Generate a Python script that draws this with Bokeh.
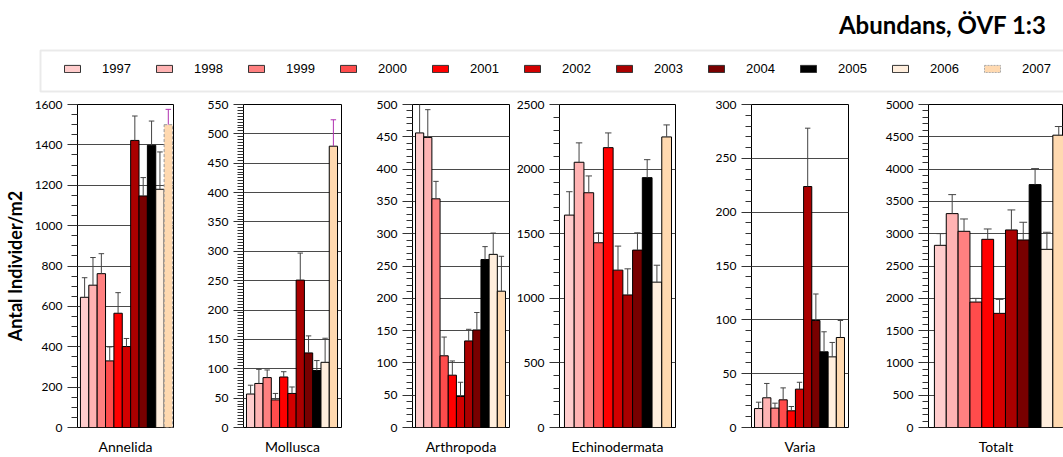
from bokeh.plotting import figure
from bokeh.models import (ColumnDataSource, Range1d, SingleIntervalTicker, FixedTicker,
                          Legend, LegendItem, Label, BoxAnnotation, IndexFilter, CDSView)
from bokeh.layouts import row, column
from bokeh.embed import file_html
from bokeh.resources import INLINE

# ---------------- data ----------------
years = ["1997", "1998", "1999", "2000", "2001", "2002", "2003", "2004", "2005", "2006", "2007"]
groups = ["Annelida", "Mollusca", "Arthropoda", "Echinodermata", "Varia", "Totalt"]

annelida = [645, 705, 762, 330, 566, 401, 1422, 1147, 1398, 1180, 1500]
annelida_se = [97, 137, 99, 69, 102, 40, 121, 91, 120, 185, 76]

mollusca = [57, 75, 85, 47, 86, 58, 251, 127, 97, 111, 479]
mollusca_se = [15, 24, 13, 11, 9, 11, 46, 29, 17, 41, 45]

arthropoda = [456, 449, 354, 111, 81, 48, 134, 151, 260, 268, 211]
arthropoda_se = [53, 43, 27, 29, 22, 22, 18, 27, 20, 33, 54]

echinodermata = [1644, 2053, 1817, 1430, 2166, 1218, 1026, 1373, 1934, 1125, 2249]
echinodermata_se = [181, 150, 130, 77, 114, 186, 202, 134, 139, 131, 93]

varia = [17.6, 27.6, 18, 25.7, 15.5, 35.6, 223.8, 99.4, 70.3, 65.6, 83.6]
varia_se = [5.9, 13.3, 4.6, 11.1, 4.0, 6.4, 54.2, 24.6, 18.6, 13.4, 15.8]

totalt = [2820, 3311, 3037, 1942, 2913, 1767, 3058, 2903, 3760, 2758, 4525]
totalt_se = [181, 294, 191, 57, 160, 216, 310, 274, 248, 264, 134]

values = [annelida, mollusca, arthropoda, echinodermata, varia, totalt]
errors = [annelida_se, mollusca_se, arthropoda_se, echinodermata_se, varia_se, totalt_se]

y_max = [1600, 550, 500, 2500, 300, 5000]
y_step = [200, 50, 50, 500, 50, 500]
y_minor = [4, 10, 5, 5, 5, 5]

title_text = "Abundans, ÖVF 1:3"
y_title = "Antal Individer/m2"

# ---------------- style ----------------
colors = ["#ffcccc", "#ffb3b3", "#ff8080", "#ff4c4c", "#ff0000", "#d20000",
          "#aa0000", "#780000", "#000000", "#ffeedd", "#ffd9b0"]
ERR = "#444444"
MAG = "#b030b0"
err_last_color = [MAG, MAG, ERR, ERR, ERR, ERR]
dashed_last = [True, False, False, False, False, False]

# (figure width, border left, border right, x start, x end)
layout_spec = [
    (190, 75, 17, -0.85, 10.62),
    (168, 53, 17, -0.86, 10.98),
    (152, 54, 1, -0.87, 10.99),
    (190, 49, 25, -1.01, 10.91),
    (175, 51, 27, -0.87, 10.99),
    (188, 53, 0, -1.00, 10.40),
]

PANEL_H = 362
TICK_FONT = "Lato"

panels = []
for k, name in enumerate(groups):
    w, bl, br, x0, x1 = layout_spec[k]
    p = figure(width=w, height=PANEL_H, x_range=Range1d(x0, x1), y_range=Range1d(0, y_max[k]),
               output_backend="svg", toolbar_location=None,
               min_border_left=bl, min_border_right=br, min_border_top=9, min_border_bottom=30)
    p.outline_line_color = "black"
    p.outline_line_width = 1
    p.background_fill_color = "white"
    p.border_fill_color = "white"

    vals = values[k]
    se = errors[k]
    n = len(vals)
    ecol = [ERR] * (n - 1) + [err_last_color[k]]
    src = ColumnDataSource(dict(
        x=list(range(n)),
        top=vals,
        up=[v + e for v, e in zip(vals, se)],
        cl=[i - 0.33 for i in range(n)],
        cr=[i + 0.33 for i in range(n)],
        color=colors,
        ecol=ecol,
    ))

    if dashed_last[k]:
        v1 = CDSView(filter=IndexFilter(list(range(n - 1))))
        v2 = CDSView(filter=IndexFilter([n - 1]))
        p.vbar(x="x", top="top", width=1.0, bottom=0, fill_color="color", line_color="black",
               line_width=1, source=src, view=v1)
        p.vbar(x="x", top="top", width=1.0, bottom=0, fill_color="color", line_color="#999999",
               line_width=1, line_dash="3 2", source=src, view=v2)
    else:
        p.vbar(x="x", top="top", width=1.0, bottom=0, fill_color="color", line_color="black",
               line_width=1, source=src)

    p.segment(x0="x", y0="top", x1="x", y1="up", line_color="ecol", line_width=1, source=src)
    p.segment(x0="cl", y0="up", x1="cr", y1="up", line_color="ecol", line_width=1, source=src)

    # y axis
    yax = p.yaxis[0]
    yax.ticker = SingleIntervalTicker(interval=y_step[k], num_minor_ticks=y_minor[k])
    yax.major_tick_out = 10
    yax.major_tick_in = 0
    yax.minor_tick_out = 6
    yax.minor_tick_in = 0
    yax.major_tick_line_color = "#333333"
    yax.minor_tick_line_color = "#333333"
    yax.axis_line_color = "black"
    yax.major_label_text_font = TICK_FONT
    yax.major_label_text_font_size = "12px"
    yax.major_label_text_color = "black"
    yax.major_label_standoff = 5
    if k == 0:
        yax.axis_label = y_title
        yax.axis_label_text_font = "Lato"
        yax.axis_label_text_font_style = "bold"
        yax.axis_label_text_font_size = "18px"
        yax.axis_label_text_color = "black"
        yax.axis_label_standoff = 6

    # x axis: only the group name
    xax = p.xaxis[0]
    xax.ticker = FixedTicker(ticks=[])
    xax.axis_line_color = None
    xax.major_tick_line_color = None
    xax.minor_tick_line_color = None
    xax.major_tick_out = 0
    xax.major_label_standoff = 0
    xax.axis_label = name
    xax.axis_label_text_font = "Lato"
    xax.axis_label_text_font_style = "normal"
    xax.axis_label_text_font_size = "14px"
    xax.axis_label_text_color = "black"
    xax.axis_label_standoff = 10

    p.xgrid.visible = False
    p.ygrid.grid_line_color = "#4a4a4a"
    p.ygrid.grid_line_width = 1
    panels.append(p)

# ---------------- header: title + legend ----------------
HEAD_W, HEAD_H = 1063, 95
head = figure(width=HEAD_W, height=HEAD_H, x_range=Range1d(0, HEAD_W), y_range=Range1d(0, HEAD_H),
              output_backend="svg", toolbar_location=None, x_axis_location=None, y_axis_location=None,
              min_border=0)
head.outline_line_color = None
head.xgrid.visible = False
head.ygrid.visible = False

head.add_layout(Label(x=1046, y=71, text=title_text, text_align="right", text_baseline="alphabetic",
                      text_font="Lato", text_font_style="bold", text_font_size="24px",
                      text_color="black"))
head.add_layout(BoxAnnotation(left=40, right=1090, bottom=4, top=45, fill_alpha=0,
                              line_color="#bbbbbb", line_width=2))

items = []
for i, yr in enumerate(years):
    if i == len(years) - 1:
        r = head.rect(x=[-500], y=[-500], width=1, height=1, fill_color=colors[i],
                      line_color="#aaaaaa", line_dash="2 1", line_width=1)
    else:
        r = head.rect(x=[-500], y=[-500], width=1, height=1, fill_color=colors[i],
                      line_color="#333333", line_width=1)
    items.append(LegendItem(label=yr, renderers=[r]))

legend = Legend(items=items, orientation="horizontal", location=(62, 19),
                glyph_width=20, glyph_height=9, label_standoff=20, label_width=30, label_height=12,
                spacing=22, padding=0, margin=0,
                label_text_font="Liberation Sans", label_text_font_size="13px",
                label_text_color="black",
                border_line_alpha=0, background_fill_alpha=0)
head.add_layout(legend, "center")

layout = column(head, row(*panels, spacing=0), spacing=0)

open("out.html", "w").write(file_html(layout, INLINE))
